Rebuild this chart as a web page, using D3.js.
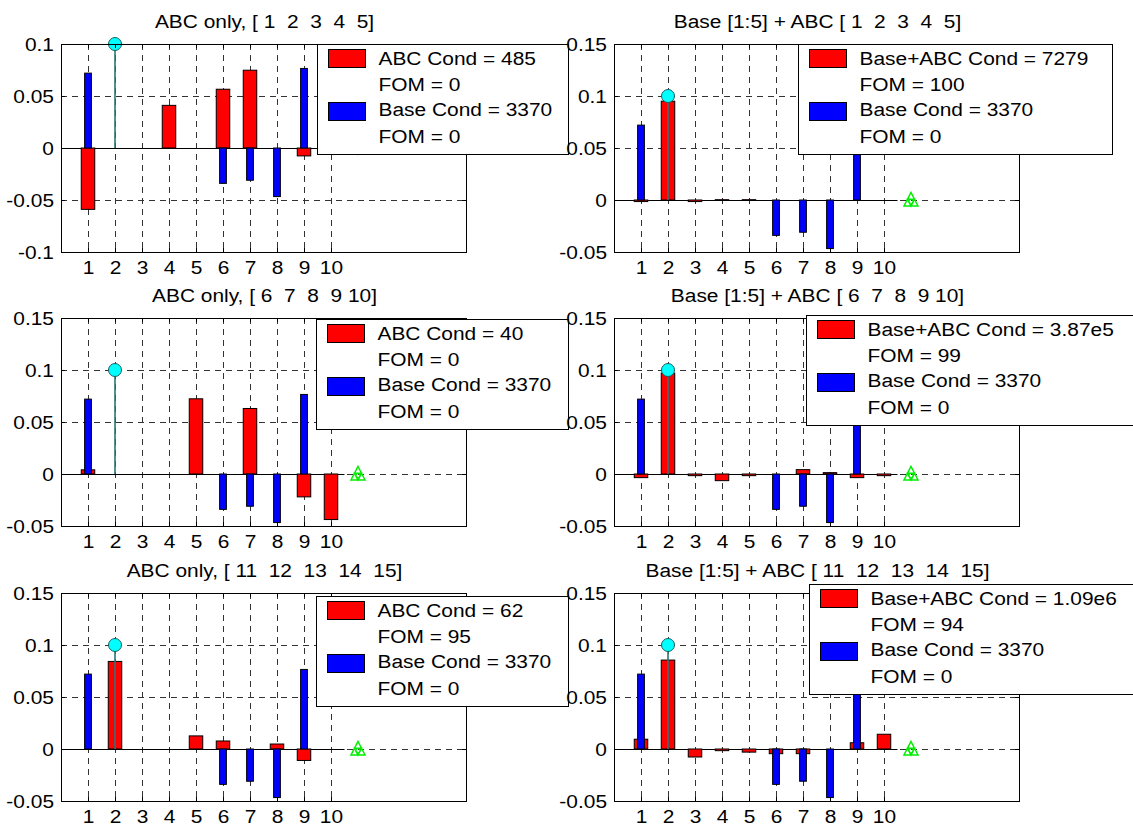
<!DOCTYPE html>
<html>
<head>
<meta charset="utf-8">
<script src="https://cdn.jsdelivr.net/npm/d3@7"></script>
<style>
  body { margin: 0; background: #fff; }
  text { font-family: "Liberation Sans", Arial, Helvetica, sans-serif; font-size: 19px; fill: #000; white-space: pre; }
</style>
</head>
<body>
<svg id="fig" width="1133" height="830"></svg>
<script>
// ---- data ----
const categories = [1, 2, 3, 4, 5, 6, 7, 8, 9, 10];
const baseValues = [0.072, 0, 0, 0, 0, -0.034, -0.031, -0.0467, 0.0765, 0];

const abcOnly1 = [-0.059, 0, 0, 0.041, 0, 0.0565, 0.0748, 0, -0.0076, 0];
const abcOnly2 = [0.004, 0, 0, 0, 0.0723, 0, 0.063, 0, -0.022, -0.0438];
const abcOnly3 = [0, 0.0842, 0, 0, 0.0126, 0.0077, 0, 0.0048, -0.011, 0];

const baseAbc1 = [-0.0015, 0.095, -0.0015, 0.0003, 0.0003, 0, 0, 0, 0, 0];
const baseAbc2 = [-0.0035, 0.097, -0.0016, -0.0064, -0.0016, 0, 0.0042, 0.0013, -0.0035, -0.0016];
const baseAbc3 = [0.0094, 0.0855, -0.0077, -0.0016, -0.003, -0.0045, -0.0045, 0, 0.006, 0.0142];

const targetX = [2];
const targetY = [0.1];
const nullMarkerX = [11];
const nullMarkerY = [0];

const yTicksNarrow = [-0.1, -0.05, 0, 0.05, 0.1];
const yLabelsNarrow = ["-0.1", "-0.05", "0", "0.05", "0.1"];
const yTicksWide = [-0.05, 0, 0.05, 0.1, 0.15];
const yLabelsWide = ["-0.05", "0", "0.05", "0.1", "0.15"];

const titles = [
  "ABC only, [ 1  2  3  4  5]",
  "Base [1:5] + ABC [ 1  2  3  4  5]",
  "ABC only, [ 6  7  8  9 10]",
  "Base [1:5] + ABC [ 6  7  8  9 10]",
  "ABC only, [ 11  12  13  14  15]",
  "Base [1:5] + ABC [ 11  12  13  14  15]"
];

const abcCond = ["485", "40", "62"];
const abcFom = ["0", "0", "95"];
const sumCond = ["7279", "3.87e5", "1.09e6"];
const sumFom = ["100", "99", "94"];
const baseCond = "3370";
const baseFom = "0";

// ---- layout ----
const AX_W = 405, AX_H = 208;
const COL_X = [61, 614];
const ROW_Y = [44, 318, 593];
const SX = 1.1; // horizontal text stretch
const svg = d3.select("#fig");

const panels = [
  { r: 0, c: 0, red: abcOnly1, yDom: [-0.1, 0.1], yt: yTicksNarrow, yl: yLabelsNarrow,
    leg: [abcCond[0], abcFom[0]], pre: "ABC Cond = ", legX: 317, legY: 44, legW: 251 },
  { r: 0, c: 1, red: baseAbc1, yDom: [-0.05, 0.15], yt: yTicksWide, yl: yLabelsWide,
    leg: [sumCond[0], sumFom[0]], pre: "Base+ABC Cond = ", legX: 798, legY: 44, legW: 314 },
  { r: 1, c: 0, red: abcOnly2, yDom: [-0.05, 0.15], yt: yTicksWide, yl: yLabelsWide,
    leg: [abcCond[1], abcFom[1]], pre: "ABC Cond = ", legX: 316, legY: 319, legW: 252 },
  { r: 1, c: 1, red: baseAbc2, yDom: [-0.05, 0.15], yt: yTicksWide, yl: yLabelsWide,
    leg: [sumCond[1], sumFom[1]], pre: "Base+ABC Cond = ", legX: 806, legY: 315, legW: 340 },
  { r: 2, c: 0, red: abcOnly3, yDom: [-0.05, 0.15], yt: yTicksWide, yl: yLabelsWide,
    leg: [abcCond[2], abcFom[2]], pre: "ABC Cond = ", legX: 316, legY: 596, legW: 252 },
  { r: 2, c: 1, red: baseAbc3, yDom: [-0.05, 0.15], yt: yTicksWide, yl: yLabelsWide,
    leg: [sumCond[2], sumFom[2]], pre: "Base+ABC Cond = ", legX: 809, legY: 584, legW: 340 }
];

function stretchedText(g, x, y, s, anchor) {
  return g.append("text")
    .attr("xml:space", "preserve")
    .attr("transform", `translate(${x},${y}) scale(${SX},1)`)
    .attr("text-anchor", anchor)
    .text(s);
}

// left column first, then right column
const order = [0, 2, 4, 1, 3, 5];

order.forEach(idx => {
  const p = panels[idx];
  const x0 = COL_X[p.c], y0 = ROW_Y[p.r];
  const x = d3.scaleLinear().domain([0, 15]).range([x0, x0 + AX_W]);
  const y = d3.scaleLinear().domain(p.yDom).range([y0 + AX_H, y0]);
  const g = svg.append("g");

  g.append("rect").attr("x", x0).attr("y", y0).attr("width", AX_W).attr("height", AX_H)
    .attr("fill", "#fff");

  // dashed grid
  const grid = g.append("g").attr("stroke", "#333").attr("stroke-width", 1)
    .attr("stroke-dasharray", "6,5").attr("shape-rendering", "crispEdges");
  categories.forEach(t => {
    grid.append("line").attr("x1", Math.round(x(t)) + 0.5).attr("x2", Math.round(x(t)) + 0.5)
      .attr("y1", y0).attr("y2", y0 + AX_H);
  });
  p.yt.forEach(t => {
    grid.append("line").attr("y1", Math.round(y(t)) + 0.5).attr("y2", Math.round(y(t)) + 0.5)
      .attr("x1", x0).attr("x2", x0 + AX_W);
  });

  // bar baseline
  g.append("line").attr("x1", x(0)).attr("x2", x(10.5))
    .attr("y1", Math.round(y(0)) + 0.5).attr("y2", Math.round(y(0)) + 0.5)
    .attr("stroke", "#000").attr("stroke-width", 1);

  // red series (wide bars)
  g.append("g").selectAll("rect").data(p.red).join("rect")
    .attr("x", (d, i) => x(categories[i] - 0.25))
    .attr("width", x(0.5) - x(0))
    .attr("y", d => y(Math.max(0, d)))
    .attr("height", d => Math.abs(y(d) - y(0)))
    .attr("fill", "#ff0000").attr("stroke", "#000").attr("stroke-width", 1);

  // blue base series (narrow bars)
  g.append("g").selectAll("rect").data(baseValues).join("rect")
    .attr("x", (d, i) => x(categories[i] - 0.125))
    .attr("width", x(0.25) - x(0))
    .attr("y", d => y(Math.max(0, d)))
    .attr("height", d => Math.abs(y(d) - y(0)))
    .attr("fill", "#0000ff").attr("stroke", "#000").attr("stroke-width", 1);

  // target stem
  g.append("line").attr("x1", x(targetX[0])).attr("x2", x(targetX[0]))
    .attr("y1", y(0)).attr("y2", y(targetY[0]))
    .attr("stroke", "#2a7676").attr("stroke-width", 1.6);
  g.append("circle").attr("cx", x(targetX[0])).attr("cy", y(targetY[0])).attr("r", 6.5)
    .attr("fill", "#00ffff").attr("stroke", "#1d5f5f").attr("stroke-width", 1);

  // null marker
  const mx = x(nullMarkerX[0]), my = y(nullMarkerY[0]);
  const tri = `M${mx},${my - 7.5} L${mx + 7},${my + 6} L${mx - 7},${my + 6} Z`;
  const inner = `M${mx - 3.5},${my - 0.75} L${mx + 3.5},${my - 0.75} L${mx},${my + 6} Z`;
  g.append("path").attr("d", tri + " " + inner).attr("fill", "none")
    .attr("stroke", "#00ee00").attr("stroke-width", 1.5);
  g.append("circle").attr("cx", mx).attr("cy", my + 1.5).attr("r", 2)
    .attr("fill", "none").attr("stroke", "#00ee00").attr("stroke-width", 1);

  // axes box
  g.append("rect").attr("x", x0 + 0.5).attr("y", y0 + 0.5).attr("width", AX_W).attr("height", AX_H)
    .attr("fill", "none").attr("stroke", "#000").attr("stroke-width", 1)
    .attr("shape-rendering", "crispEdges");

  // inward ticks
  const tk = g.append("g").attr("stroke", "#000").attr("shape-rendering", "crispEdges");
  categories.forEach(t => {
    const xx = Math.round(x(t)) + 0.5;
    tk.append("line").attr("x1", xx).attr("x2", xx).attr("y1", y0 + AX_H).attr("y2", y0 + AX_H - 4);
    tk.append("line").attr("x1", xx).attr("x2", xx).attr("y1", y0).attr("y2", y0 + 4);
  });
  p.yt.forEach(t => {
    const yy = Math.round(y(t)) + 0.5;
    tk.append("line").attr("y1", yy).attr("y2", yy).attr("x1", x0).attr("x2", x0 + 4);
    tk.append("line").attr("y1", yy).attr("y2", yy).attr("x1", x0 + AX_W).attr("x2", x0 + AX_W - 4);
  });

  // tick labels via d3 axes
  const yAx = g.append("g").attr("transform", `translate(${x0},0)`)
    .call(d3.axisLeft(y).tickValues(p.yt).tickFormat((d, i) => p.yl[i]).tickSize(0).tickPadding(7));
  yAx.select(".domain").remove();
  yAx.attr("font-size", null).attr("font-family", null);
  yAx.selectAll("text").attr("x", null).attr("dy", null)
    .attr("transform", `translate(-7,6.6) scale(${SX},1)`);

  const xAx = g.append("g").attr("transform", `translate(0,${y0 + AX_H})`)
    .call(d3.axisBottom(x).tickValues(categories).tickFormat(d3.format("d")).tickSize(0));
  xAx.select(".domain").remove();
  xAx.attr("font-size", null).attr("font-family", null);
  xAx.selectAll("text").attr("y", null).attr("dy", null)
    .attr("transform", `translate(0,22) scale(${SX},1)`);

  // title
  stretchedText(g, x0 + AX_W / 2 + 1, y0 - 16, titles[idx], "middle");

  // legend
  const L = p.legX, T = p.legY;
  const lg = svg.append("g");
  lg.append("rect").attr("x", L + 0.5).attr("y", T + 0.5).attr("width", p.legW).attr("height", 110)
    .attr("fill", "#fff").attr("stroke", "#000").attr("stroke-width", 1)
    .attr("shape-rendering", "crispEdges");
  lg.append("rect").attr("x", L + 11.5).attr("y", T + 5.5).attr("width", 37).attr("height", 18)
    .attr("fill", "#ff0000").attr("stroke", "#000").attr("stroke-width", 1);
  lg.append("rect").attr("x", L + 11.5).attr("y", T + 58.5).attr("width", 37).attr("height", 18)
    .attr("fill", "#0000ff").attr("stroke", "#000").attr("stroke-width", 1);
  const lines = [p.pre + p.leg[0], "FOM = " + p.leg[1], "Base Cond = " + baseCond, "FOM = " + baseFom];
  const base = [20.5, 47, 72, 98.5];
  lines.forEach((s, i) => stretchedText(lg, L + 61.5, T + base[i], s, "start"));
});
</script>
</body>
</html>
